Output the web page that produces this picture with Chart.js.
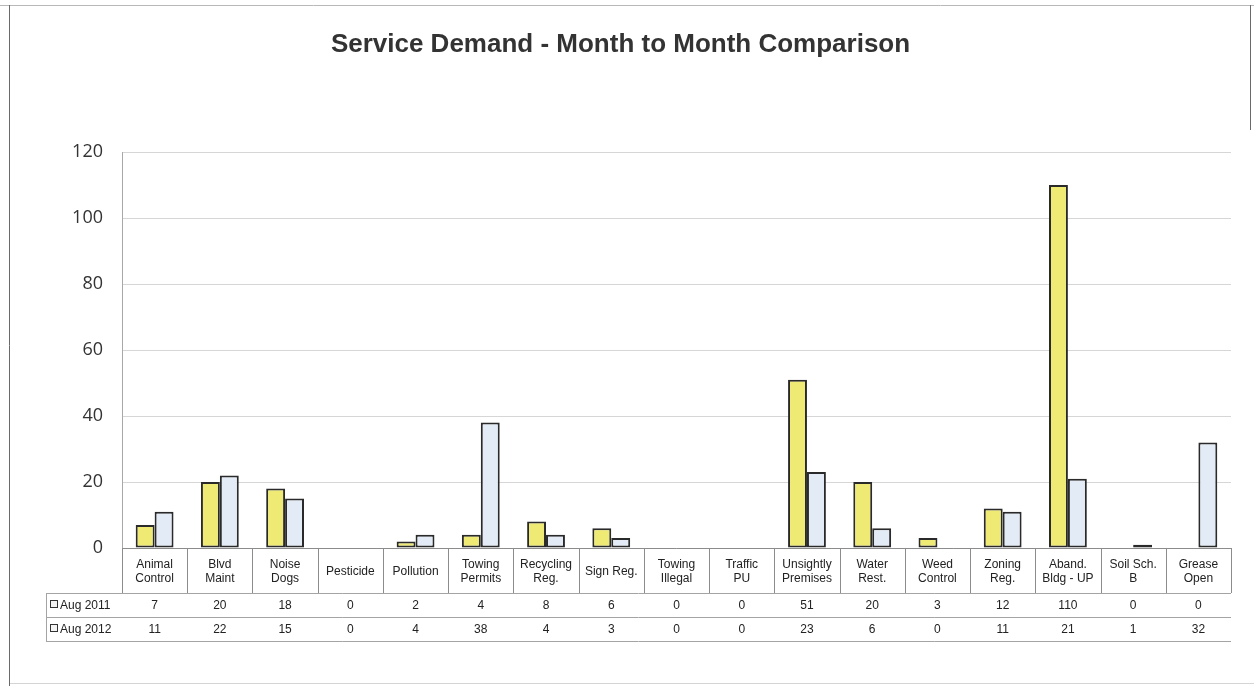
<!DOCTYPE html>
<html>
<head>
<meta charset="utf-8">
<title>Service Demand - Month to Month Comparison</title>
<script src="https://cdn.jsdelivr.net/npm/chart.js@4/dist/chart.umd.min.js"></script>
<style>
  html, body { margin: 0; padding: 0; background: #ffffff; }
  #wrap { position: relative; width: 1254px; height: 686px; }
</style>
</head>
<body>
<div id="wrap"><canvas id="chart"></canvas></div>
<script>
// ---- Data ----
const categories = [
  ["Animal", "Control"], ["Blvd", "Maint"], ["Noise", "Dogs"], ["Pesticide"], ["Pollution"],
  ["Towing", "Permits"], ["Recycling", "Reg."], ["Sign Reg."], ["Towing", "Illegal"], ["Traffic", "PU"],
  ["Unsightly", "Premises"], ["Water", "Rest."], ["Weed", "Control"], ["Zoning", "Reg."],
  ["Aband.", "Bldg - UP"], ["Soil Sch.", "B"], ["Grease", "Open"]
];
const seriesNames = ["Aug 2011", "Aug 2012"];
const aug2011 = [7, 20, 18, 0, 2, 4, 8, 6, 0, 0, 51, 20, 3, 12, 110, 0, 0];
const aug2012 = [11, 22, 15, 0, 4, 38, 4, 3, 0, 0, 23, 6, 0, 11, 21, 1, 32];
const yTicks = [0, 20, 40, 60, 80, 100, 120];

const COLORS = ["#eeea73", "#e3ecf6"];
const LABEL_FONT = "12px 'Liberation Sans', Arial, sans-serif";

const tablePlugin = {
  id: "dataTable",
  afterDraw(chart) {
    const ctx = chart.ctx;
    const xs = chart.scales.x;
    const ca = chart.chartArea;
    const n = categories.length;
    const step = xs.getPixelForValue(1) - xs.getPixelForValue(0);
    const boxTop = ca.bottom;
    const boxBottom = ca.bottom + 45;
    const rowH = 24;
    const tableLeft = 46;
    const right = ca.right;
    ctx.save();

    // frame of the whole picture
    ctx.strokeStyle = "#b8b8b8";
    ctx.lineWidth = 1;
    ctx.beginPath();
    ctx.moveTo(0, 5.5); ctx.lineTo(1254, 5.5);
    ctx.stroke();
    ctx.strokeStyle = "#6a6a6a";
    ctx.beginPath();
    ctx.moveTo(9.5, 5); ctx.lineTo(9.5, 686);
    ctx.moveTo(1250.5, 5); ctx.lineTo(1250.5, 130);
    ctx.stroke();
    ctx.strokeStyle = "#d4d4d4";
    ctx.beginPath();
    ctx.moveTo(10, 683.5); ctx.lineTo(1254, 683.5);
    ctx.stroke();

    // category boxes
    ctx.strokeStyle = "#8c8c8c";
    ctx.lineWidth = 1;
    ctx.beginPath();
    for (let i = 0; i <= n; i++) {
      const x = Math.round(xs.getPixelForValue(i) - step / 2) + 0.5;
      ctx.moveTo(x, boxTop); ctx.lineTo(x, boxBottom);
    }
    ctx.moveTo(ca.left, boxTop + 0.5); ctx.lineTo(right, boxTop + 0.5);
    ctx.stroke();

    // table lines
    ctx.strokeStyle = "#a4a4a4";
    ctx.beginPath();
    for (let r = 0; r <= seriesNames.length; r++) {
      const y = Math.round(boxBottom + r * rowH) + 0.5;
      ctx.moveTo(tableLeft, y); ctx.lineTo(right, y);
    }
    ctx.moveTo(tableLeft + 0.5, boxBottom); ctx.lineTo(tableLeft + 0.5, boxBottom + rowH * seriesNames.length);
    ctx.stroke();

    // category labels
    ctx.fillStyle = "#222222";
    ctx.font = LABEL_FONT;
    ctx.textAlign = "center";
    ctx.textBaseline = "middle";
    const midY = (boxTop + boxBottom) / 2 + 1;
    categories.forEach((lines, i) => {
      const x = xs.getPixelForValue(i);
      const lh = 14;
      const start = midY - (lines.length - 1) * lh / 2;
      lines.forEach((t, k) => ctx.fillText(t, x, start + k * lh));
    });

    // data rows
    const rows = [aug2011, aug2012];
    rows.forEach((vals, r) => {
      const y = boxBottom + r * rowH + rowH / 2 + 1;
      ctx.textAlign = "center";
      ctx.fillStyle = "#222222";
      vals.forEach((v, i) => ctx.fillText(String(v), xs.getPixelForValue(i), y));
      // legend key
      ctx.fillStyle = "#f4f4f4";
      ctx.fillRect(50.5, y - 5.5, 7, 7);
      ctx.strokeStyle = "#333333";
      ctx.strokeRect(50.5, y - 5.5, 7, 7);
      ctx.fillStyle = "#222222";
      ctx.textAlign = "left";
      ctx.fillText(seriesNames[r], 60, y);
    });
    ctx.restore();
  }
};

new Chart(document.getElementById("chart"), {
  type: "bar",
  data: {
    labels: categories.map(c => c.join(" ")),
    datasets: [
      { label: seriesNames[0], data: aug2011, backgroundColor: COLORS[0], borderColor: "#2a2a2a", borderWidth: 2, borderSkipped: false },
      { label: seriesNames[1], data: aug2012, backgroundColor: COLORS[1], borderColor: "#2a2a2a", borderWidth: 2, borderSkipped: false }
    ]
  },
  options: {
    responsive: true,
    maintainAspectRatio: false,
    animation: false,
    layout: { padding: { left: 10, right: 23, top: 0, bottom: 138 } },
    datasets: { bar: { categoryPercentage: 0.58, barPercentage: 1.0 } },
    plugins: {
      legend: { display: false },
      tooltip: { enabled: false },
      title: {
        display: true,
        text: "Service Demand - Month to Month Comparison",
        color: "#333333",
        font: { family: "'Liberation Sans', Arial, sans-serif", size: 26, weight: "bold", lineHeight: 1.2 },
        padding: { top: 29, bottom: 91.8 }
      }
    },
    scales: {
      x: { display: false },
      y: {
        min: 0, max: 120,
        afterFit(scale) { scale.width = 112; },
        afterBuildTicks(scale) { scale.ticks = yTicks.map(v => ({ value: v })); },
        grid: { color: "#d6d6d6", drawTicks: false, lineWidth: 1 },
        border: { display: true, color: "#a8a8a8", width: 1 },
        ticks: {
          color: "#333333",
          padding: 19,
          font: { family: "'Open Sans', sans-serif", size: 18 }
        }
      }
    }
  },
  plugins: [tablePlugin]
});
</script>
</body>
</html>
